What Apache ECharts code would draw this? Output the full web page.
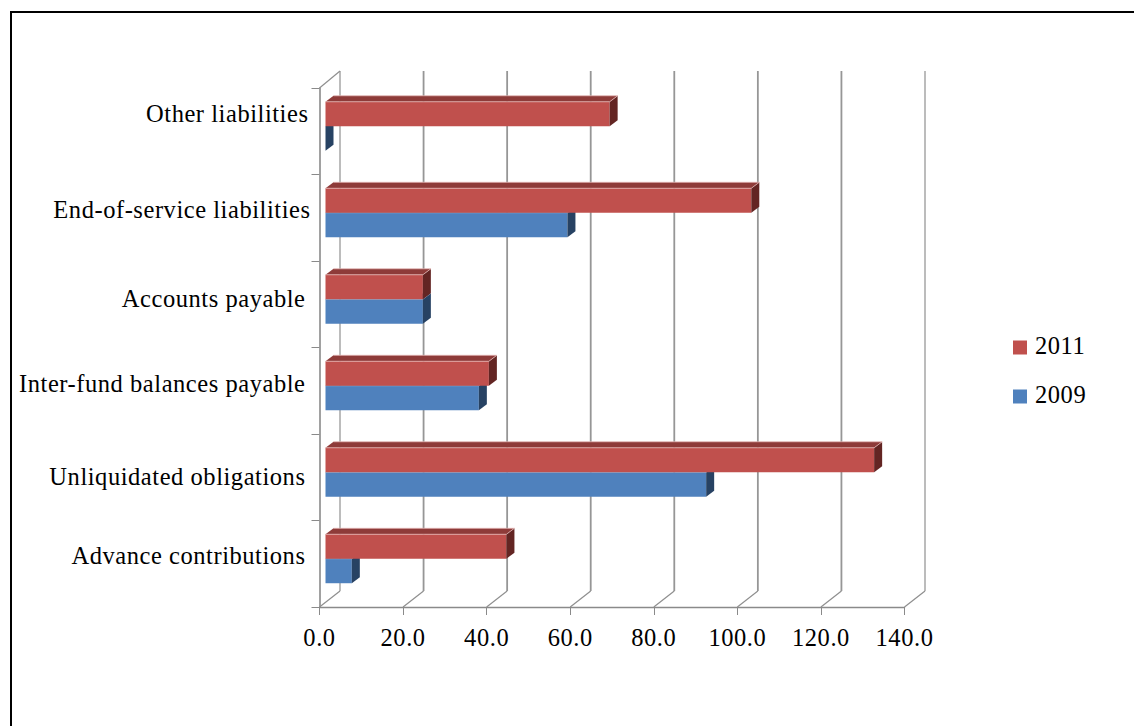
<!DOCTYPE html>
<html><head><meta charset="utf-8">
<style>html,body{margin:0;padding:0;background:#fff}#c{width:1134px;height:726px}
#c svg text{letter-spacing:.55px}</style>
<script src="https://cdn.jsdelivr.net/npm/echarts@6/dist/echarts.min.js"></script>
</head><body><div id="c"></div>
<script>
const categories = ['Advance contributions','Unliquidated obligations','Inter-fund balances payable','Accounts payable','End-of-service liabilities','Other liabilities'];
const values2011 = [43.3,131.3,39.1,23.3,101.9,68.0];
const values2009 = [6.3,91.1,36.7,23.3,57.9,0];
const xTicks = [0,20,40,60,80,100,120,140];
const labelUp = [8,1,7,6,8,18];
const labelRight = [5,5,5,5,0,2];

const FONT = '"Liberation Serif","Times New Roman",serif';
const FS = 24.5;
const rich = {};
categories.forEach((c,i)=>{
  const up = labelUp[i];
  rich['c'+i] = {fontFamily:FONT,fontSize:FS,color:'#000',
    padding:[up<0?-up*2:0,labelRight[i],up>0?up*2:0,0]};
});

const chart = echarts.init(document.getElementById('c'),null,{renderer:'svg'});
const DX=8, DY=6;
const OFFX=6, OFFY=-5;

function barItem(upper, front, top, side, edge){
  return function(params, api){
    const p = api.coord([api.value(0), api.value(1)]);
    const z = api.coord([0, api.value(1)]);
    const h = api.size([0,1])[1]*0.283;
    const x0 = z[0]+OFFX, x1 = p[0]+OFFX;
    const yMid = p[1]+OFFY;
    const y0 = upper ? yMid-h : yMid;
    const y1 = upper ? yMid : yMid+h;
    const w = x1-x0;
    const children = [];
    if(w>0){
      children.push({type:'polygon',shape:{points:[[x0,y0],[x1,y0],[x1+DX,y0-DY],[x0+DX,y0-DY]]},style:{fill:top}});
      children.push({type:'rect',shape:{x:x0,y:y0,width:w,height:y1-y0},style:{fill:front}});
    }
    children.push({type:'polygon',shape:{points:[[x1,y0],[x1+DX,y0-DY],[x1+DX,y1-DY],[x1,y1]]},style:{fill:side}});
    if(w>0){
      children.push({type:'polyline',shape:{points:[[x0,y0],[x1,y0],[x1+DX,y0-DY],[x0+DX,y0-DY]]},style:{fill:null,stroke:edge,lineWidth:1}});
    }
    return {type:'group',children};
  };
}
function wallItem(params, api){
  const v = api.value(0);
  const p = api.coord([v,0]);
  const cs = params.coordSys;
  const bottom = cs.y+cs.height, top = cs.y;
  const x = p[0];
  const edgeLine = v===xTicks[0] || v===xTicks[xTicks.length-1];
  const children = [
    {type:'line',shape:{x1:x,y1:bottom,x2:x+20.5,y2:bottom-16},style:{stroke:'#8f8f8f',lineWidth:1.2}},
    {type:'line',shape:{x1:x+20.5,y1:bottom-16,x2:x+20.5,y2:top-17},style:{stroke:edgeLine?'#8f8f8f':'#969696',lineWidth:edgeLine?1.2:1.8}}
  ];
  if(v===xTicks[0]){
    children.push({type:'line',shape:{x1:x,y1:top,x2:x+20.5,y2:top-17},style:{stroke:'#8f8f8f',lineWidth:1.2}});
  }
  return {type:'group',children};
}
chart.setOption({
  animation:false,
  backgroundColor:'#fff',
  textStyle:{fontFamily:FONT},
  grid:{left:319.5,top:88,width:585,height:519,containLabel:false},
  xAxis:{type:'value',min:0,max:140,interval:20,
    axisLine:{show:true,lineStyle:{color:'#8a8a8a',width:1.4}},
    axisTick:{show:true,length:8,lineStyle:{color:'#8a8a8a'}},
    splitLine:{show:false},
    axisLabel:{show:true,margin:18,color:'#000',fontFamily:FONT,fontSize:FS,formatter:v=>v.toFixed(1),hideOverlap:false,showMinLabel:true,showMaxLabel:true}},
  yAxis:{type:'category',data:categories,
    axisLine:{show:true,lineStyle:{color:'#8a8a8a',width:1.6}},
    axisTick:{show:true,length:8,alignWithLabel:false,lineStyle:{color:'#8a8a8a'}},
    axisLabel:{show:true,interval:0,margin:9,color:'#000',fontFamily:FONT,fontSize:FS,
      formatter:(v,i)=>'{c'+i+'|'+v+'}',rich}},
  legend:{show:true,orient:'vertical',left:1013,top:333,padding:0,itemWidth:14,itemHeight:14,itemGap:24,
    icon:'rect',data:['2011','2009'],selectedMode:false,
    formatter:n=>'{t|'+n+'}',
    textStyle:{color:'#000',fontFamily:FONT,fontSize:FS,
      rich:{t:{fontFamily:FONT,fontSize:FS,color:'#000',padding:[0,0,4,3]}}}},
  graphic:[{type:'polyline',silent:true,shape:{points:[[11,726],[11,12],[1134,12]]},style:{fill:null,stroke:'#000',lineWidth:2}}],
  series:[
    {type:'custom',name:'walls',silent:true,z:1,renderItem:wallItem,encode:{x:0,y:1},data:xTicks.map(v=>[v,0])},
    {type:'custom',name:'2009',z:2,itemStyle:{color:'#4F81BD'},encode:{x:0,y:1},
      renderItem:barItem(false,'#4F81BD','#2F5076','#274263','rgba(185,205,229,0.5)'),
      data:values2009.map((v,i)=>[v,i])},
    {type:'custom',name:'2011',z:3,itemStyle:{color:'#C0504D'},encode:{x:0,y:1},
      renderItem:barItem(true,'#C0504D','#8E3B39','#632523','rgba(230,185,184,0.75)'),
      data:values2011.map((v,i)=>[v,i])}
  ]
});
</script></body></html>
